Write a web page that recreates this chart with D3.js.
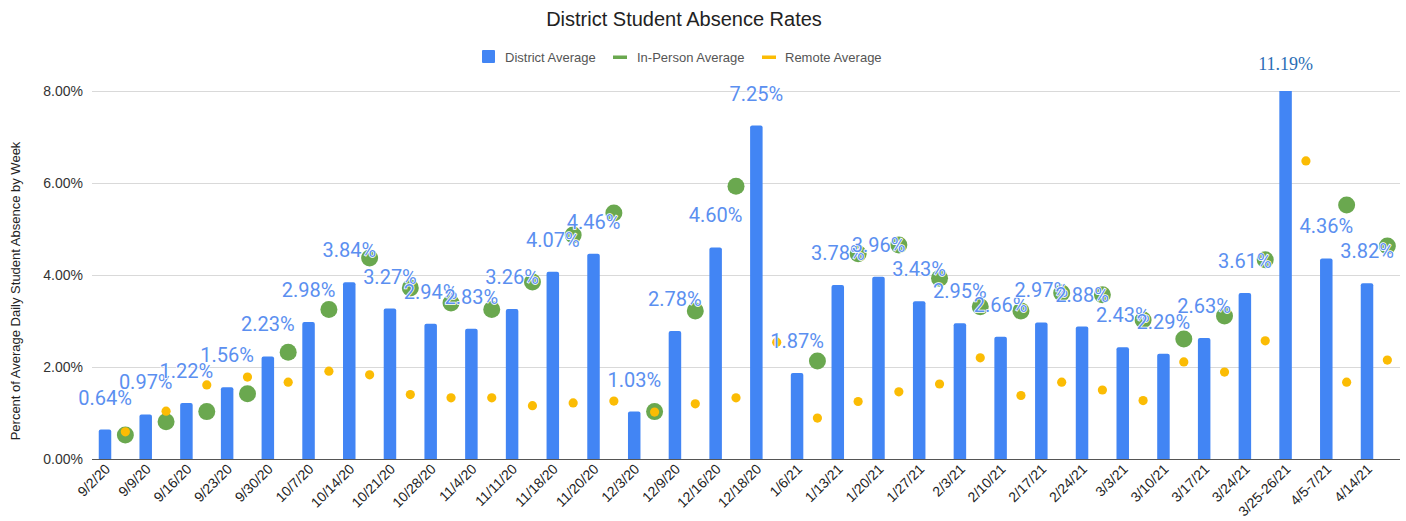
<!DOCTYPE html>
<html>
<head>
<meta charset="utf-8">
<script src="https://cdn.jsdelivr.net/npm/d3@7"></script>
<style>
  body { margin: 0; background: #fff; }
  svg { display: block; font-family: Arial, "Liberation Sans", sans-serif; }
</style>
</head>
<body>
<svg id="chart" width="1406" height="521"></svg>
<script>
const weeks = ['9/2/20', '9/9/20', '9/16/20', '9/23/20', '9/30/20', '10/7/20', '10/14/20', '10/21/20',
  '10/28/20', '11/4/20', '11/11/20', '11/18/20', '11/20/20', '12/3/20', '12/9/20', '12/16/20',
  '12/18/20', '1/6/21', '1/13/21', '1/20/21', '1/27/21', '2/3/21', '2/10/21', '2/17/21',
  '2/24/21', '3/3/21', '3/10/21', '3/17/21', '3/24/21', '3/25-26/21', '4/5-7/21', '4/14/21'];
const districtAvg = [0.64, 0.97, 1.22, 1.56, 2.23, 2.98, 3.84, 3.27, 2.94, 2.83, 3.26, 4.07, 4.46, 1.03,
  2.78, 4.60, 7.25, 1.87, 3.78, 3.96, 3.43, 2.95, 2.66, 2.97, 2.88, 2.43, 2.29, 2.63, 3.61, 11.19, 4.36, 3.82];
const inPersonAvg = [0.52, 0.81, 1.03, 1.42, 2.32, 3.25, 4.37, 3.72, 3.39, 3.25, 3.85, 4.87, 5.35, 1.03,
  3.22, 5.93, null, 2.13, 4.46, 4.65, 3.93, 3.31, 3.22, 3.61, 3.57, 3.02, 2.61, 3.11, 4.33, null, 5.52, 4.63];
const remoteAvg = [0.59, 1.04, 1.61, 1.78, 1.67, 1.91, 1.83, 1.40, 1.33, 1.33, 1.16, 1.22, 1.26, 1.02,
  1.20, 1.33, 2.54, 0.89, 1.25, 1.46, 1.63, 2.20, 1.38, 1.67, 1.50, 1.27, 2.11, 1.89, 2.57, 6.48, 1.67, 2.15];
const yTicks = [0, 2, 4, 6, 8];

const svg = d3.select('#chart');
const plotLeft = 92, plotRight = 1400, plotTop = 91, plotBottom = 459;

const x = d3.scalePoint().domain(weeks).range([105, 1367]);
const half = x.step() / 2;
const y = d3.scaleLinear().domain([0, 8]).range([plotBottom, plotTop]);

// title
svg.append('text')
  .attr('x', 684).attr('y', 26)
  .attr('text-anchor', 'middle')
  .attr('font-size', 20)
  .attr('fill', '#222')
  .text('District Student Absence Rates');

// legend
const legend = svg.append('g').attr('font-size', 13).attr('fill', '#555');
legend.append('rect').attr('x', 482).attr('y', 50).attr('width', 13).attr('height', 13).attr('rx', 1).attr('fill', '#4285f4');
legend.append('text').attr('x', 505).attr('y', 61.5).text('District Average');
legend.append('rect').attr('x', 613).attr('y', 55.5).attr('width', 14).attr('height', 3.5).attr('fill', '#6aa84f');
legend.append('text').attr('x', 637).attr('y', 61.5).text('In-Person Average');
legend.append('rect').attr('x', 762).attr('y', 55.5).attr('width', 14).attr('height', 3.5).attr('fill', '#fbbc04');
legend.append('text').attr('x', 785).attr('y', 61.5).text('Remote Average');

// grid + y axis
const yAxis = svg.append('g')
  .attr('transform', `translate(${plotLeft},0)`)
  .call(d3.axisLeft(y).tickValues(yTicks).tickSize(-(plotRight - plotLeft)).tickPadding(9)
    .tickFormat((d) => `${d.toFixed(2)}%`));
yAxis.select('.domain').remove();
yAxis.selectAll('.tick line').attr('stroke', '#d9d9d9');
yAxis.selectAll('.tick text').attr('font-size', 14).attr('fill', '#333').attr('font-family', 'Arial, "Liberation Sans", sans-serif');

svg.append('text')
  .attr('transform', `translate(20,${(plotTop + plotBottom) / 2 + 16}) rotate(-90)`)
  .attr('text-anchor', 'middle')
  .attr('font-size', 13)
  .attr('fill', '#222')
  .text('Percent of Average Daily Student Absence by Week');

// clip so the 11.19% week stops at the top gridline
svg.append('clipPath').attr('id', 'plot-clip')
  .append('rect').attr('x', plotLeft).attr('y', plotTop).attr('width', plotRight - plotLeft).attr('height', plotBottom - plotTop);

const barW = 12.5;
svg.append('g').attr('clip-path', 'url(#plot-clip)')
  .selectAll('path')
  .data(districtAvg)
  .enter()
  .append('path')
  .attr('fill', '#4285f4')
  .attr('d', (d, i) => {
    const x0 = x(weeks[i]) - barW / 2;
    const top = y(d);
    const r = 2;
    return `M${x0},${plotBottom}V${top + r}Q${x0},${top} ${x0 + r},${top}H${x0 + barW - r}Q${x0 + barW},${top} ${x0 + barW},${top + r}V${plotBottom}Z`;
  });

// baseline
svg.append('line')
  .attr('x1', plotLeft).attr('x2', plotRight)
  .attr('y1', plotBottom + 0.5).attr('y2', plotBottom + 0.5)
  .attr('stroke', '#555').attr('stroke-width', 1.2);

// x labels
svg.append('g')
  .attr('font-size', 14)
  .attr('fill', '#222')
  .selectAll('text')
  .data(weeks)
  .enter()
  .append('text')
  .attr('text-anchor', 'end')
  .attr('transform', (d) => `translate(${x(d) + 6},${plotBottom + 11}) rotate(-45)`)
  .text((d) => d);

// in-person points
svg.append('g')
  .selectAll('circle')
  .data(inPersonAvg.map((v, i) => ({ v, w: weeks[i] })).filter((d) => d.v != null))
  .enter()
  .append('circle')
  .attr('cx', (d) => x(d.w) + half)
  .attr('cy', (d) => y(d.v))
  .attr('r', 8.5)
  .attr('fill', '#6aa84f');

// remote points
svg.append('g')
  .selectAll('circle')
  .data(remoteAvg.map((v, i) => ({ v, w: weeks[i] })))
  .enter()
  .append('circle')
  .attr('cx', (d) => x(d.w) + half)
  .attr('cy', (d) => y(d.v))
  .attr('r', 4.6)
  .attr('fill', '#fbbc04');

// data labels over the bars (the off-scale week gets its own note)
svg.append('g')
  .attr('font-family', 'Roboto, Arial, sans-serif')
  .attr('font-size', 20)
  .attr('fill', '#5b8ff0')
  .attr('stroke', '#fff')
  .attr('stroke-width', 1.5)
  .attr('paint-order', 'stroke')
  .attr('text-anchor', 'middle')
  .selectAll('text')
  .data(districtAvg.map((v, i) => ({ v, w: weeks[i] })).filter((d) => d.v <= 8))
  .enter()
  .append('text')
  .attr('x', (d) => x(d.w))
  .attr('y', (d) => y(d.v) - 25)
  .text((d) => `${d.v.toFixed(2)}%`);

const peak = districtAvg.indexOf(d3.max(districtAvg));
svg.append('text')
  .attr('x', x(weeks[peak]))
  .attr('y', 70)
  .attr('text-anchor', 'middle')
  .attr('font-family', '"Liberation Serif", "Times New Roman", serif')
  .attr('font-size', 18)
  .attr('fill', '#2a6db5')
  .text(`${districtAvg[peak].toFixed(2)}%`);
</script>
</body>
</html>
